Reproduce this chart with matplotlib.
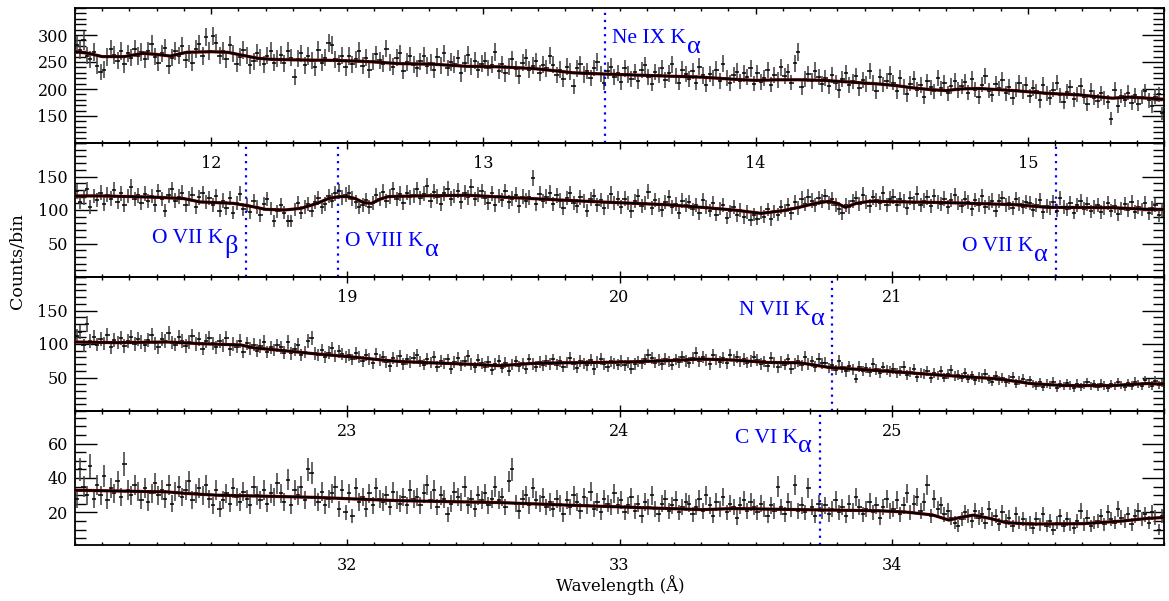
"""Four-panel grating spectrum: binned counts with Poisson errors, model curve and line markers."""

import numpy as np
import matplotlib

matplotlib.use("Agg")
import matplotlib.pyplot as plt
from matplotlib.ticker import FixedLocator, MultipleLocator

W, H = 1169, 601
BIN_WIDTH = 0.0125

# wavelength range of each panel (Angstrom)
PANEL_RANGES = [(11.5, 15.5), (18.0, 22.0), (22.0, 26.0), (31.0, 35.0)]
PANEL_YLIMS = [(100, 350), (0, 200), (0, 200), (1, 79)]
PANEL_YMAJOR = [[150, 200, 250, 300], [50, 100, 150], [50, 100, 150], [20, 40, 60]]
PANEL_YMINOR = [10, 10, 10, 5]
PANEL_XMAJOR = [[12, 13, 14, 15], [19, 20, 21], [23, 24, 25], [32, 33, 34]]

# counts per 0.0125 A bin, 20 bins per row (0.25 A)
P1_COUNTS = [
    281, 272, 290, 262, 255, 268, 243, 231, 236, 259, 274, 263, 252, 270, 246, 266, 258, 275, 261, 268,
    255, 271, 283, 260, 249, 266, 276, 243, 258, 271, 262, 280, 254, 266, 249, 274, 283, 261, 296, 270,
    298, 285, 262, 270, 255, 281, 266, 247, 259, 272, 262, 244, 251, 267, 258, 246, 262, 270, 249, 256,
    263, 248, 271, 258, 222, 256, 266, 244, 261, 252, 240, 273, 249, 258, 285, 281, 255, 247, 262, 240,
    261, 246, 255, 270, 243, 258, 236, 251, 264, 253, 247, 275, 249, 241, 258, 266, 233, 250, 262, 245,
    238, 251, 262, 243, 249, 235, 259, 244, 266, 239, 250, 246, 257, 229, 248, 263, 241, 252, 236, 247,
    252, 239, 245, 268, 233, 246, 229, 241, 255, 237, 224, 249, 258, 236, 243, 251, 230, 245, 238, 262,
    245, 226, 236, 219, 241, 232, 205, 238, 246, 227, 233, 220, 239, 250, 228, 212, 234, 241, 222, 230,
    213, 238, 227, 219, 231, 214, 235, 244, 222, 210, 231, 226, 239, 217, 229, 246, 224, 212, 236, 228,
    219, 233, 212, 241, 225, 208, 228, 221, 236, 215, 247, 220, 211, 226, 232, 214, 229, 222, 238, 210,
    229, 213, 221, 235, 208, 226, 217, 240, 224, 231, 212, 248, 268, 203, 219, 228, 215, 234, 223, 209,
    221, 205, 226, 212, 198, 219, 230, 207, 214, 224, 201, 216, 209, 233, 211, 196, 222, 208, 215, 227,
    212, 196, 221, 204, 190, 210, 218, 199, 207, 185, 214, 203, 196, 220, 201, 211, 192, 206, 215, 198,
    205, 213, 193, 218, 199, 186, 208, 224, 197, 189, 210, 201, 217, 192, 204, 183, 199, 212, 195, 207,
    187, 202, 196, 179, 208, 191, 184, 199, 212, 188, 176, 195, 203, 181, 190, 206, 186, 172, 197, 184,
    178, 192, 183, 176, 145, 198, 169, 187, 180, 193, 175, 188, 172, 185, 196, 179, 168, 186, 190, 155,
]
P2_COUNTS = [
    128, 112, 119, 131, 104, 121, 115, 126, 109, 123, 117, 130, 112, 125, 108, 121, 134, 116, 122, 110,
    124, 113, 121, 107, 128, 116, 99, 122, 131, 114, 120, 126, 108, 117, 123, 104, 119, 125, 112, 118,
    107, 121, 99, 114, 103, 118, 96, 110, 124, 101, 108, 97, 113, 105, 92, 109, 116, 102, 84, 98,
    107, 96, 83, 84, 101, 111, 96, 105, 109, 99, 112, 118, 104, 109, 121, 114, 125, 128, 119, 123,
    126, 117, 112, 104, 108, 115, 105, 111, 122, 116, 127, 113, 120, 131, 116, 124, 110, 126, 119, 122,
    131, 118, 124, 136, 114, 127, 120, 109, 125, 132, 117, 121, 129, 112, 126, 119, 134, 116, 123, 128,
    118, 111, 125, 107, 121, 115, 128, 112, 117, 123, 106, 120, 114, 119, 148, 109, 124, 113, 120, 126,
    109, 122, 114, 103, 118, 125, 111, 106, 119, 113, 99, 116, 121, 108, 115, 103, 112, 124, 110, 117,
    104, 117, 111, 98, 113, 121, 106, 110, 127, 103, 115, 108, 100, 112, 119, 105, 109, 96, 114, 107,
    112, 101, 108, 95, 115, 104, 99, 110, 93, 102, 107, 88, 98, 104, 92, 100, 89, 97, 85, 93,
    87, 96, 90, 101, 86, 98, 93, 104, 99, 108, 95, 112, 103, 117, 109, 120, 114, 108, 118, 113,
    121, 111, 116, 107, 102, 95, 108, 104, 113, 118, 109, 123, 112, 106, 119, 115, 110, 125, 108, 117,
    120, 107, 116, 113, 103, 118, 110, 124, 108, 114, 119, 106, 121, 112, 109, 117, 104, 115, 122, 110,
    106, 117, 112, 101, 115, 108, 121, 104, 110, 114, 99, 113, 118, 107, 111, 103, 116, 109, 105, 112,
    111, 100, 108, 115, 97, 106, 103, 112, 99, 118, 105, 101, 110, 96, 107, 113, 102, 109, 98, 104,
    108, 97, 103, 111, 99, 106, 94, 102, 109, 100, 112, 97, 105, 101, 110, 95, 103, 107, 92, 100,
]
P3_COUNTS = [
    112, 118, 98, 130, 104, 110, 99, 107, 101, 113, 95, 106, 102, 109, 97, 104, 111, 100, 107, 103,
    98, 106, 113, 101, 95, 108, 104, 116, 102, 99, 110, 105, 97, 103, 112, 100, 107, 93, 104, 109,
    101, 95, 104, 98, 109, 92, 100, 96, 105, 88, 101, 94, 99, 90, 97, 103, 88, 95, 91, 98,
    95, 87, 103, 86, 92, 99, 84, 88, 104, 109, 86, 83, 91, 80, 87, 94, 82, 89, 85, 80,
    84, 77, 86, 80, 74, 83, 78, 71, 85, 76, 80, 73, 67, 79, 75, 82, 70, 77, 73, 79,
    84, 74, 69, 78, 72, 80, 66, 75, 71, 77, 63, 73, 79, 68, 74, 82, 70, 65, 76, 71,
    66, 73, 61, 70, 75, 64, 72, 60, 69, 74, 67, 71, 63, 77, 70, 66, 73, 68, 75, 70,
    77, 69, 74, 66, 72, 79, 70, 64, 75, 71, 68, 76, 62, 73, 78, 70, 66, 74, 71, 69,
    75, 68, 72, 63, 70, 74, 71, 77, 83, 79, 72, 76, 70, 78, 74, 69, 77, 73, 80, 75,
    72, 79, 86, 74, 81, 76, 70, 83, 77, 73, 79, 71, 84, 76, 80, 74, 78, 72, 75, 81,
    76, 70, 74, 67, 79, 72, 65, 73, 69, 77, 63, 71, 75, 68, 80, 70, 74, 66, 78, 71,
    72, 64, 68, 61, 75, 65, 59, 67, 62, 48, 66, 60, 64, 58, 70, 62, 57, 65, 61, 59,
    63, 56, 60, 66, 54, 58, 62, 51, 57, 55, 60, 49, 56, 53, 59, 50, 55, 61, 52, 54,
    50, 56, 48, 53, 46, 51, 49, 55, 47, 44, 52, 46, 49, 43, 47, 51, 41, 45, 48, 42,
    46, 40, 38, 43, 36, 41, 39, 44, 35, 40, 37, 42, 38, 34, 41, 36, 39, 43, 37, 40,
    36, 41, 38, 35, 40, 37, 43, 39, 36, 42, 38, 44, 40, 37, 46, 41, 38, 45, 39, 42,
]
P4_COUNTS = [
    28, 45, 35, 30, 47, 28, 36, 30, 41, 27, 34, 31, 38, 29, 48, 33, 30, 36, 32, 27,
    34, 26, 31, 37, 30, 33, 28, 36, 25, 32, 35, 29, 33, 38, 27, 31, 34, 30, 36, 28,
    24, 33, 22, 27, 31, 25, 34, 29, 26, 32, 28, 24, 35, 30, 27, 33, 25, 31, 29, 37,
    31, 26, 39, 24, 33, 30, 35, 27, 45, 43, 29, 26, 32, 24, 28, 31, 35, 22, 33, 20,
    31, 18, 34, 26, 29, 22, 31, 24, 34, 28, 26, 30, 23, 32, 27, 25, 29, 24, 33, 28,
    29, 24, 31, 36, 27, 33, 23, 30, 28, 19, 25, 32, 29, 26, 35, 24, 28, 22, 30, 27,
    31, 24, 28, 35, 27, 29, 23, 38, 45, 25, 21, 28, 30, 24, 34, 27, 25, 29, 23, 26,
    22, 28, 25, 19, 27, 23, 30, 26, 21, 29, 24, 32, 22, 26, 20, 28, 25, 23, 31, 24,
    27, 20, 24, 29, 21, 25, 18, 26, 23, 30, 22, 19, 25, 28, 21, 24, 27, 20, 23, 26,
    25, 19, 23, 28, 21, 30, 24, 18, 26, 22, 29, 20, 25, 23, 17, 24, 27, 21, 26, 23,
    20, 25, 22, 18, 24, 21, 35, 23, 19, 26, 22, 36, 21, 24, 20, 34, 23, 18, 25, 21,
    24, 19, 22, 27, 20, 23, 18, 25, 21, 29, 23, 19, 22, 26, 20, 24, 17, 23, 28, 21,
    22, 27, 19, 24, 31, 20, 25, 29, 21, 26, 36, 18, 28, 22, 24, 19, 21, 17, 14, 12,
    16, 20, 18, 15, 21, 17, 19, 14, 22, 16, 18, 13, 20, 15, 17, 12, 19, 14, 16, 13,
    14, 11, 16, 13, 19, 12, 15, 10, 14, 18, 12, 16, 13, 11, 15, 21, 13, 17, 12, 14,
    15, 18, 13, 20, 16, 14, 22, 17, 15, 19, 13, 18, 21, 16, 19, 14, 20, 17, 10, 18,
]
PANEL_COUNTS = [P1_COUNTS, P2_COUNTS, P3_COUNTS, P4_COUNTS]

# model curve, read at knots along each panel
P1_MODEL_WAVE = [11.50, 11.55, 11.60, 11.68, 11.75, 11.80, 11.85, 11.91, 12.00, 12.06, 12.12, 12.17,
                 12.22, 12.30, 12.45, 12.57, 12.69, 12.81, 12.94, 13.06, 13.18, 13.24, 13.33, 13.43,
                 13.55, 13.67, 13.80, 13.92, 14.00, 14.08, 14.16, 14.25, 14.34, 14.46, 14.52, 14.58,
                 14.64, 14.70, 14.75, 14.82, 14.95, 15.07, 15.19, 15.25, 15.31, 15.37, 15.44, 15.50]
P1_MODEL_COUNTS = [269, 266, 260, 260, 266, 264, 261, 268, 269, 268, 262, 257,
                   255, 254, 253, 251, 247, 246, 242, 241, 238, 235, 230, 228,
                   226, 224, 222, 218, 216, 217, 217, 216, 213, 209, 206, 202,
                   199, 197, 200, 201, 197, 192, 189, 186, 183, 185, 183, 181]
P2_MODEL_WAVE = [18.00, 18.10, 18.21, 18.30, 18.40, 18.46, 18.52, 18.58, 18.64, 18.70, 18.77, 18.83,
                 18.89, 18.93, 18.97, 19.00, 19.03, 19.06, 19.09, 19.12, 19.15, 19.25, 19.44, 19.68,
                 19.93, 20.17, 20.30, 20.42, 20.52, 20.60, 20.66, 20.72, 20.77, 20.80, 20.83, 20.87,
                 20.92, 21.20, 21.45, 21.57, 21.81, 21.94, 22.00]
P2_MODEL_COUNTS = [121, 121, 120, 119, 117, 112, 111, 110, 106, 101, 100, 102.5,
                   110, 117, 120, 120, 117, 111, 110, 116, 120, 121, 122, 117,
                   112, 108, 104, 100, 95, 99, 104, 110, 113, 110, 104, 110,
                   113, 111, 108, 104, 103.5, 101, 101]
P3_MODEL_WAVE = [22.00, 22.15, 22.34, 22.46, 22.61, 22.66, 22.77, 22.89, 23.01, 23.13, 23.19, 23.30,
                 23.44, 23.56, 23.68, 23.80, 23.93, 24.05, 24.17, 24.30, 24.42, 24.54, 24.66, 24.71,
                 24.77, 24.96, 25.20, 25.39, 25.51, 25.63, 25.81, 25.94, 26.00]
P3_MODEL_COUNTS = [103, 102, 103, 100.5, 98.5, 94, 90, 85, 81, 76, 74, 72,
                   70, 67.6, 71, 72, 72.5, 73.5, 75, 77.5, 76, 72.5, 72, 69,
                   65, 60, 53, 48, 41, 38, 38, 41, 40]
P4_MODEL_WAVE = [31.00, 31.34, 31.41, 31.52, 31.70, 31.89, 32.01, 32.19, 32.56, 32.81, 33.05, 33.30,
                 33.42, 33.66, 33.96, 34.05, 34.15, 34.21, 34.25, 34.30, 34.36, 34.42, 34.51, 34.70,
                 34.85, 34.94, 35.00]
P4_MODEL_COUNTS = [32.9, 31.9, 31.0, 30.0, 29.4, 28.7, 27.9, 26.8, 25.7, 24.2, 22.9, 21.6,
                   22.2, 21.6, 20.9, 20.2, 18.5, 15.5, 17.0, 18.4, 16.5, 14.0, 13.2, 13.4,
                   15.0, 16.5, 17.0]
PANEL_MODEL_WAVE = [P1_MODEL_WAVE, P2_MODEL_WAVE, P3_MODEL_WAVE, P4_MODEL_WAVE]
PANEL_MODEL_COUNTS = [P1_MODEL_COUNTS, P2_MODEL_COUNTS, P3_MODEL_COUNTS, P4_MODEL_COUNTS]

# identified lines: panel, wavelength, label, greek subscript, side of the marker
LINE_PANEL = [0, 1, 1, 1, 2, 3]
LINE_WAVE = [13.447, 18.627, 18.967, 21.602, 24.781, 33.736]
LINE_TEXT = ["Ne IX K", "O VII K", "O VIII K", "O VII K", "N VII K", "C VI K"]
LINE_GREEK = ["α", "β", "α", "α", "α", "α"]
LINE_SIDE = ["right", "left", "right", "left", "left", "left"]
LINE_YFRAC = [0.74, 0.25, 0.23, 0.19, 0.71, 0.76]

# panel pixel boxes (top, bottom) and horizontal extent
PANEL_TOPS = [8, 143, 277, 411]
PANEL_BOTTOMS = [143, 277, 411, 545]
LEFT_PX, RIGHT_PX = 75, 1164

SERIF = "DejaVu Serif"
LABEL_FONT = "Liberation Serif"
BLUE = "#0000ff"


def draw_line_label(ax, wave, yfrac, text, greek, side):
    trans = ax.get_xaxis_transform()
    ax.axvline(wave, color=BLUE, lw=1.6, linestyle=(0, (1, 2.2)))
    style = dict(color=BLUE, family=LABEL_FONT, va="baseline", annotation_clip=False)
    if side == "right":
        main = ax.annotate(text, xy=(wave, yfrac), xycoords=trans, xytext=(5, 0),
                           textcoords="offset points", ha="left", fontsize=15.5, **style)
        ax.annotate(greek, xy=(1, 0), xycoords=main, xytext=(0.5, -3.5),
                    textcoords="offset points", ha="left", fontsize=19, **style)
    else:
        sub = ax.annotate(greek, xy=(wave, yfrac), xycoords=trans, xytext=(-5.5, -6.5),
                          textcoords="offset points", ha="right", fontsize=19, **style)
        ax.annotate(text, xy=(0, 0), xycoords=sub, xytext=(-0.5, 10.5),
                    textcoords="offset points", ha="right", fontsize=15.5, **style)


def main():
    fig = plt.figure(figsize=(W / 100, H / 100), dpi=100)
    axes = []
    for i, (x0, x1) in enumerate(PANEL_RANGES):
        top, bottom = PANEL_TOPS[i], PANEL_BOTTOMS[i]
        ax = fig.add_axes([LEFT_PX / W, 1 - bottom / H, (RIGHT_PX - LEFT_PX) / W, (bottom - top) / H])
        ax.set_facecolor("none")
        axes.append(ax)

        counts = np.asarray(PANEL_COUNTS[i], dtype=float)
        wave = x0 + BIN_WIDTH * (np.arange(len(counts)) + 0.5)
        err = np.sqrt(counts)  # Poisson errors
        ax.vlines(wave, counts - err, counts + err, colors="#4a4a4a", lw=1.2, zorder=2)
        ax.hlines(counts, wave - 0.008, wave + 0.008, colors="black", lw=1.1, zorder=3)

        ax.plot(PANEL_MODEL_WAVE[i], PANEL_MODEL_COUNTS[i], color="#b00000", lw=2.3, zorder=4)
        ax.plot(PANEL_MODEL_WAVE[i], PANEL_MODEL_COUNTS[i], color="black", lw=1.7, zorder=5)

        ax.set_xlim(x0, x1)
        ax.set_ylim(*PANEL_YLIMS[i])
        ax.xaxis.set_major_locator(FixedLocator(PANEL_XMAJOR[i]))
        ax.xaxis.set_minor_locator(MultipleLocator(0.1))
        ax.yaxis.set_major_locator(FixedLocator(PANEL_YMAJOR[i]))
        ax.yaxis.set_minor_locator(MultipleLocator(PANEL_YMINOR[i]))
        ax.tick_params(axis="x", which="both", direction="in", top=True, bottom=True,
                       width=1.0, pad=9, labelsize=11.5)
        ax.tick_params(axis="x", which="major", length=4)
        ax.tick_params(axis="x", which="minor", length=2.5)
        ax.tick_params(axis="y", which="both", direction="in", left=True, right=True,
                       width=1.0, pad=5, labelsize=11.5)
        ax.tick_params(axis="y", which="major", length=16)
        ax.tick_params(axis="y", which="minor", length=8)
        for label in ax.get_xticklabels() + ax.get_yticklabels():
            label.set_family(SERIF)
        for spine in ax.spines.values():
            spine.set_linewidth(1.3)

    for p, wave, text, greek, side, yfrac in zip(LINE_PANEL, LINE_WAVE, LINE_TEXT, LINE_GREEK,
                                                 LINE_SIDE, LINE_YFRAC):
        draw_line_label(axes[p], wave, yfrac, text, greek, side)

    fig.text(18 / W, 1 - 261 / H, "Counts/bin", rotation=90, ha="center", va="center",
             family=SERIF, fontsize=12.5)
    fig.text(620 / W, 1 - 585 / H, "Wavelength (Å)", ha="center", va="center",
             family=SERIF, fontsize=12)

    fig.savefig("out.png", dpi=100)


if __name__ == "__main__":
    main()
